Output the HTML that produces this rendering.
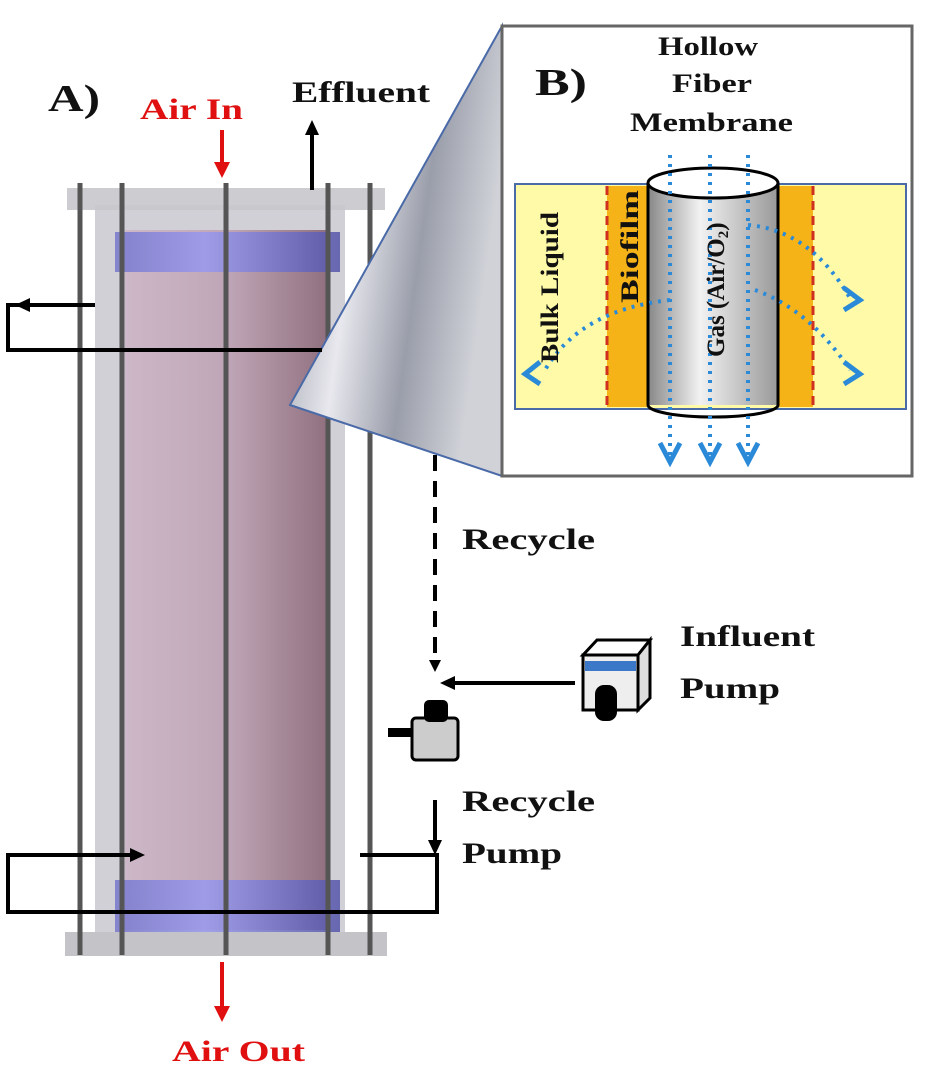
<!DOCTYPE html>
<html><head><style>body{margin:0;background:#fff}svg{display:block}</style></head><body>
<svg width="928" height="1087" viewBox="0 0 928 1087" xmlns="http://www.w3.org/2000/svg" font-family="Liberation Serif, serif" font-weight="bold">
<defs>
<linearGradient id="pink" x1="0" x2="1"><stop offset="0" stop-color="#cdb8c8"/><stop offset="0.5" stop-color="#bfa6b6"/><stop offset="1" stop-color="#8f6f7e"/></linearGradient>
<linearGradient id="blue" x1="0" x2="1"><stop offset="0" stop-color="#7777cc"/><stop offset="0.4" stop-color="#9999ee"/><stop offset="1" stop-color="#5555aa"/></linearGradient>
<linearGradient id="wedge" x1="0" y1="0" x2="1" y2="0.3"><stop offset="0" stop-color="#8a8f9a"/><stop offset="0.4" stop-color="#e8e8ee"/><stop offset="0.7" stop-color="#9a9eaa"/><stop offset="1" stop-color="#d0d2d8"/></linearGradient>
<linearGradient id="cyl" x1="0" x2="1"><stop offset="0" stop-color="#888"/><stop offset="0.4" stop-color="#f2f2f2"/><stop offset="1" stop-color="#999"/></linearGradient>
</defs>
<!-- reactor -->
<rect x="95" y="205" width="250" height="735" fill="#d0d0d6"/>
<rect x="125" y="230" width="205" height="700" fill="url(#pink)"/>
<rect x="115" y="232" width="225" height="40" fill="url(#blue)" opacity="0.85"/>
<rect x="115" y="880" width="225" height="52" fill="url(#blue)" opacity="0.85"/>
<rect x="67" y="188" width="318" height="22" fill="#c8c8cc" opacity="0.9"/>
<rect x="65" y="932" width="322" height="24" fill="#c4c4c8"/>
<g stroke="#555" stroke-width="5">
<line x1="80" y1="183" x2="80" y2="955"/><line x1="122" y1="183" x2="122" y2="955"/>
<line x1="226" y1="183" x2="226" y2="955"/><line x1="328" y1="183" x2="328" y2="955"/>
<line x1="370" y1="183" x2="370" y2="955"/></g>
<!-- wedge -->
<polygon points="502,26 290,405 502,476" fill="url(#wedge)" stroke="#4a6aa8" stroke-width="2"/>
<!-- flows -->
<g stroke="#000" stroke-width="4" fill="none">
<polyline points="95,305 8,305 8,350 322,350"/>
<polyline points="140,855 8,855 8,912 437,912 437,855 360,855"/>
<line x1="312" y1="190" x2="312" y2="130"/>
<line x1="435" y1="800" x2="435" y2="845"/>
<line x1="575" y1="683" x2="455" y2="683"/>
<line x1="435" y1="455" x2="435" y2="660" stroke-dasharray="16,10"/>
</g>
<g fill="#000">
<polygon points="15,305 30,298 30,312"/>
<polygon points="145,855 130,848 130,862"/>
<polygon points="312,120 305,135 319,135"/>
<polygon points="435,855 428,840 442,840"/>
<polygon points="440,683 455,676 455,690"/>
<polygon points="435,672 429,660 441,660"/>
</g>
<g stroke="#e01010" stroke-width="4"><line x1="222" y1="130" x2="222" y2="165"/><line x1="222" y1="962" x2="222" y2="1010"/></g>
<g fill="#e01010"><polygon points="222,178 214,162 230,162"/><polygon points="222,1022 214,1006 230,1006"/></g>
<!-- pumps -->
<rect x="583" y="655" width="55" height="55" fill="#eee" stroke="#000" stroke-width="3"/>
<polygon points="583,655 597,640 650,640 638,655" fill="#fff" stroke="#000" stroke-width="3"/>
<polygon points="638,655 650,640 650,698 638,710" fill="#ddd" stroke="#000" stroke-width="3"/>
<rect x="585" y="661" width="51" height="10" fill="#3b78c8"/>
<rect x="595" y="685" width="22" height="36" rx="9" fill="#000"/>
<rect x="412" y="718" width="46" height="42" rx="4" fill="#ccc" stroke="#000" stroke-width="3"/>
<rect x="424" y="700" width="24" height="22" rx="5" fill="#000"/>
<rect x="388" y="728" width="24" height="9" fill="#000"/>
<!-- inset B -->
<rect x="502" y="26" width="410" height="450" fill="#fff" stroke="#666" stroke-width="3"/>
<rect x="515" y="184" width="391" height="225" fill="#fffaa8" stroke="#4a6aa8" stroke-width="2"/>
<rect x="607" y="186" width="43" height="221" fill="#f6b318"/>
<rect x="778" y="186" width="35" height="221" fill="#f6b318"/>
<g stroke="#d03020" stroke-width="3" stroke-dasharray="9,6"><line x1="607" y1="186" x2="607" y2="407"/><line x1="813" y1="186" x2="813" y2="407"/></g>
<rect x="648" y="183" width="130" height="222" fill="url(#cyl)"/>
<path d="M648,183 V405 A65,12 0 0 0 778,405 V183" fill="none" stroke="#000" stroke-width="3"/>
<ellipse cx="713" cy="183" rx="65" ry="15" fill="#fff" stroke="#000" stroke-width="3"/>
<g stroke="#2a8ad8" stroke-width="4" stroke-dasharray="3,6" fill="none">
<line x1="670" y1="155" x2="670" y2="455"/><line x1="710" y1="155" x2="710" y2="455"/><line x1="748" y1="155" x2="748" y2="455"/>
<path d="M748,225 Q810,230 850,298"/><path d="M755,290 Q810,310 850,370"/><path d="M670,300 Q580,310 545,370"/>
</g>
<g stroke="#2a8ad8" stroke-width="5" fill="none">
<polyline points="844,288 860,300 844,310"/><polyline points="844,362 860,374 844,384"/><polyline points="540,362 525,374 540,384"/>
<polyline points="660,443 670,462 680,443"/><polyline points="700,443 710,462 720,443"/><polyline points="738,443 748,462 758,443"/>
</g>
<!-- text -->
<g font-size="30" fill="#111" lengthAdjust="spacingAndGlyphs">
<text x="48" y="111" font-size="38" textLength="52" lengthAdjust="spacingAndGlyphs">A)</text>
<text x="292" y="102" textLength="138" lengthAdjust="spacingAndGlyphs">Effluent</text>
<text x="535" y="95" font-size="38" textLength="52" lengthAdjust="spacingAndGlyphs">B)</text>
<text x="658" y="55" font-size="26" textLength="100" lengthAdjust="spacingAndGlyphs">Hollow</text>
<text x="672" y="92" font-size="26" textLength="80" lengthAdjust="spacingAndGlyphs">Fiber</text>
<text x="630" y="131" font-size="26" textLength="163" lengthAdjust="spacingAndGlyphs">Membrane</text>
<text x="462" y="549" textLength="133" lengthAdjust="spacingAndGlyphs">Recycle</text>
<text x="680" y="646" textLength="135" lengthAdjust="spacingAndGlyphs">Influent</text>
<text x="680" y="698" textLength="100" lengthAdjust="spacingAndGlyphs">Pump</text>
<text x="462" y="811" textLength="133" lengthAdjust="spacingAndGlyphs">Recycle</text>
<text x="462" y="863" textLength="100" lengthAdjust="spacingAndGlyphs">Pump</text>
<text transform="translate(558,363) rotate(-90)" font-size="25" textLength="151" lengthAdjust="spacingAndGlyphs">Bulk Liquid</text>
<text transform="translate(638,303) rotate(-90)" font-size="25" textLength="113" lengthAdjust="spacingAndGlyphs">Biofilm</text>
<text transform="translate(724,357) rotate(-90)" font-size="25">Gas (Air/O<tspan font-size="15" dy="4">2</tspan><tspan dy="-4">)</tspan></text>
</g>
<text x="140" y="119" font-size="30" fill="#e01010" textLength="103" lengthAdjust="spacingAndGlyphs">Air In</text>
<text x="172" y="1061" font-size="30" fill="#e01010" textLength="133" lengthAdjust="spacingAndGlyphs">Air Out</text>
</svg>
</body></html>
